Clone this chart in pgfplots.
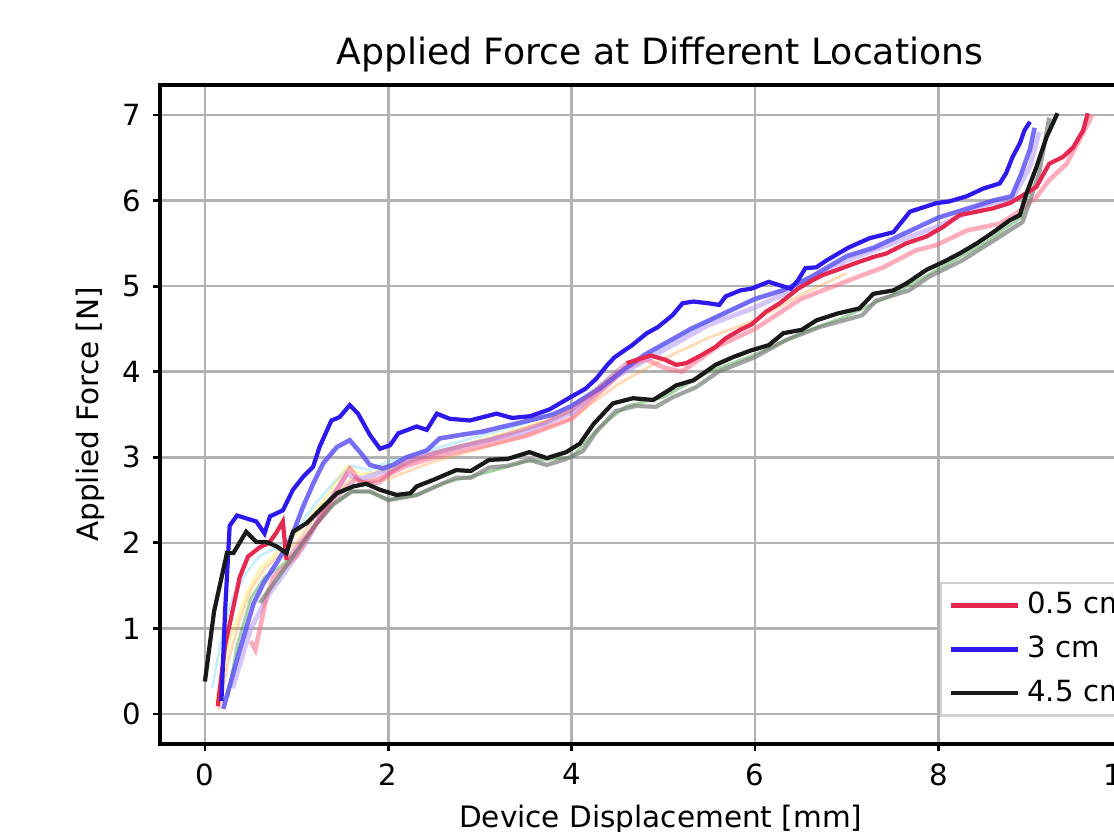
\documentclass[border=0pt]{standalone}
\usepackage{fontspec}
\setmainfont{DejaVu Sans}
\usepackage{pgfplots}
\pgfplotsset{compat=1.18}

\definecolor{redA}{RGB}{228,40,80}
\definecolor{pinkA}{RGB}{255,105,135}
\definecolor{blueA}{RGB}{45,25,235}
\definecolor{blueB}{RGB}{95,85,245}
\definecolor{lavA}{RGB}{170,140,245}
\definecolor{blackA}{RGB}{25,25,25}
\definecolor{grayA}{RGB}{120,125,120}
\definecolor{gridc}{RGB}{178,178,178}

\begin{document}
\begin{tikzpicture}
\useasboundingbox (0,0) rectangle (11.14,8.32);
\clip (0,0) rectangle (11.14,8.32);
\begin{axis}[
  at={(1.60cm,0.88cm)}, anchor=south west,
  scale only axis, width=9.8cm, height=6.59cm,
  xmin=-0.49, xmax=10.2, ymin=-0.35, ymax=7.35,
  xtick={0,2,4,6,8,10}, ytick={0,1,2,3,4,5,6,7},
  tick align=outside, tick pos=left,
  major tick length=0.07cm,
  every tick/.style={black, line width=0.8pt},
  axis line style={black, line width=0.9pt},
  grid=major, grid style={gridc, line width=0.75pt},
  /pgf/number format/assume math mode=true,
  tick label style={font=\fontsize{8.3}{10}\selectfont},
  label style={font=\fontsize{8.4}{10}\selectfont},
  xlabel={Device Displacement [mm]},
  ylabel={Applied Force [N]},
  xlabel style={at={(axis description cs:0.511,0)}, anchor=north, yshift=-0.49cm},
  ylabel style={at={(axis description cs:0,0.5)}, anchor=south, yshift=0.43cm},
  every axis title shift=0pt,
  title={Applied Force at Different Locations},
  title style={font=\fontsize{10.3}{12}\selectfont, at={(axis description cs:0.51,1)}, anchor=base, yshift=0.21cm},
  legend cell align=left,
  legend style={at={(rel axis cs:0.796,0.246)}, anchor=north west,
    font=\fontsize{8.3}{10}\selectfont, draw=gridc!60, line width=0.6pt,
    row sep=0.03cm, inner xsep=0.08cm, inner ysep=0.02cm,
    /tikz/every even column/.append style={column sep=0.13cm}},
  legend image code/.code={\draw[#1, line width=1.2pt] (0cm,0cm) -- (0.67cm,0cm);},
]
% faint trial lines near the start
\addplot[cyan!60, line width=0.8pt, opacity=0.35, forget plot] coordinates {
 (0.08,0.3)(0.2,1.0)(0.3,1.35)(0.45,1.65)(0.6,1.85)(0.8,1.95)(1.0,2.15)(1.2,2.45)(1.4,2.7)(1.6,2.9)(1.8,2.85)(2.0,2.95)(2.5,3.1)(3.0,3.25)(3.5,3.4)(4.0,3.6)(4.5,4.0)(5.0,4.3)(5.5,4.6)(6.0,4.85)};
\addplot[orange!80, line width=0.8pt, opacity=0.35, forget plot] coordinates {
 (0.15,0.05)(0.25,0.6)(0.38,1.1)(0.5,1.45)(0.65,1.7)(0.8,1.85)(1.0,2.0)(1.2,2.3)(1.4,2.55)(1.6,2.75)(1.8,2.7)(2.0,2.75)(2.5,2.95)(3.0,3.1)(3.5,3.25)(4.0,3.45)(4.5,3.85)(5.0,4.15)(5.5,4.4)(6.0,4.6)(6.5,4.9)(7.0,5.15)};
\addplot[yellow!80!orange, line width=0.8pt, opacity=0.3, forget plot] coordinates {
 (0.12,0.15)(0.28,0.9)(0.45,1.4)(0.6,1.7)(0.8,1.9)(1.0,2.1)(1.3,2.5)(1.55,2.9)(1.7,2.8)(2.0,2.85)(2.5,3.05)(3.0,3.2)(3.5,3.35)(4.0,3.55)};
\addplot[green!50!black, line width=0.8pt, opacity=0.35, forget plot] coordinates {
 (0.25,0.2)(0.35,0.8)(0.5,1.35)(0.65,1.6)(0.8,1.7)(1.0,1.9)(1.2,2.2)(1.4,2.45)(1.6,2.6)(1.8,2.6)(2.0,2.5)(2.3,2.55)(2.6,2.7)(3.0,2.8)(3.5,2.95)(4.0,3.0)(4.3,3.35)(4.6,3.6)(5.0,3.7)(5.5,4.0)(6.0,4.2)(6.5,4.45)(7.0,4.65)(7.5,4.9)(8.0,5.2)(8.5,5.5)(8.9,5.8)(9.1,6.5)(9.25,6.95)};
% 3 cm, third trial (light lavender)
\addplot[lavA, line width=1.4pt, opacity=0.5, forget plot] coordinates {
 (0.3,0.3)(0.5,1.0)(0.7,1.4)(0.9,1.7)(1.1,2.0)(1.3,2.4)(1.55,2.8)(1.7,2.75)(2.0,2.85)(2.5,3.05)(3.0,3.18)(3.5,3.3)(4.0,3.52)(4.5,3.95)(5.0,4.25)(5.5,4.55)(6.0,4.75)(6.5,5.0)(7.0,5.3)(7.5,5.5)(8.0,5.7)(8.5,5.95)(8.8,6.0)(9.0,6.4)(9.1,6.8)};
% 0.5 cm, second trial (pink)
\addplot[pinkA, line width=1.3pt, opacity=0.55, forget plot] coordinates {
 (0.5,0.85)(0.55,0.75)(0.62,1.1)(0.67,1.37)(0.75,1.6)(0.85,1.7)(1.0,1.85)(1.2,2.2)(1.4,2.55)(1.58,2.87)(1.7,2.7)(1.9,2.75)(2.2,2.9)(2.5,3.0)(3.0,3.12)(3.5,3.25)(4.0,3.45)(4.3,3.75)(4.6,4.05)(4.8,4.15)(5.0,4.05)(5.2,4.0)(5.4,4.15)(5.6,4.3)(6.0,4.5)(6.5,4.85)(7.03,5.07)(7.40,5.22)(7.76,5.42)(7.98,5.48)(8.31,5.65)(8.67,5.73)(8.85,5.85)(9.07,6.04)(9.21,6.24)(9.40,6.43)(9.54,6.71)(9.68,7.0)};
% 4.5 cm, second trial (gray)
\addplot[grayA, line width=1.2pt, opacity=0.7, forget plot] coordinates {
 (0.6,1.3)(0.8,1.6)(1.0,1.9)(1.2,2.2)(1.4,2.45)(1.6,2.6)(1.8,2.6)(2.0,2.5)(2.31,2.56)(2.5,2.65)(2.74,2.76)(2.9,2.76)(3.1,2.88)(3.3,2.9)(3.54,2.97)(3.73,2.91)(3.94,2.98)(4.12,3.07)(4.27,3.3)(4.48,3.54)(4.7,3.6)(4.92,3.59)(5.1,3.7)(5.36,3.82)(5.6,4.0)(6.0,4.17)(6.34,4.37)(6.7,4.52)(7.17,4.66)(7.32,4.83)(7.68,4.95)(7.9,5.11)(8.26,5.3)(8.63,5.55)(8.92,5.75)(9.0,6.0)(9.1,6.32)(9.21,6.97)};
% 3 cm, second trial (medium blue)
\addplot[blueB, line width=1.3pt, opacity=0.85, forget plot] coordinates {
 (0.2,0.06)(0.38,0.75)(0.53,1.29)(0.64,1.53)(0.78,1.76)(0.93,2.03)(1.07,2.42)(1.18,2.69)(1.29,2.93)(1.44,3.12)(1.58,3.2)(1.70,3.05)(1.80,2.91)(1.94,2.87)(2.05,2.91)(2.2,3.0)(2.42,3.08)(2.56,3.22)(2.78,3.26)(3.03,3.30)(3.18,3.34)(3.5,3.42)(3.8,3.5)(4.0,3.6)(4.3,3.8)(4.6,4.05)(4.8,4.2)(5.0,4.32)(5.3,4.5)(5.6,4.65)(6.0,4.85)(6.3,4.95)(6.6,5.1)(7.0,5.35)(7.3,5.45)(7.6,5.6)(8.0,5.8)(8.3,5.9)(8.6,6.0)(8.8,6.05)(8.9,6.3)(9.0,6.6)(9.05,6.85)};
% 0.5 cm, middle part faint
\addplot[redA!70!lavA, line width=1.2pt, opacity=0.4, forget plot] coordinates {
 (0.89,1.8)(1.0,1.95)(1.2,2.2)(1.4,2.5)(1.55,2.65)(1.65,2.75)(1.75,2.7)(1.9,2.7)(2.0,2.8)(2.2,2.95)(2.5,3.05)(2.8,3.13)(3.1,3.2)(3.4,3.3)(3.7,3.4)(4.0,3.55)(4.2,3.72)(4.4,3.92)(4.6,4.1)};
% main lines
\addplot[redA, line width=1.2pt] coordinates {
 (0.14,0.09)(0.22,0.8)(0.3,1.2)(0.38,1.6)(0.47,1.84)(0.6,1.95)(0.7,2.0)(0.78,2.12)(0.85,2.25)(0.89,1.8)};
\addplot[redA, line width=1.2pt, forget plot] coordinates {
 (4.6,4.1)(4.86,4.19)(5.02,4.14)(5.14,4.08)(5.25,4.10)(5.41,4.19)(5.57,4.29)(5.68,4.39)(5.84,4.49)(5.96,4.55)(6.12,4.70)(6.27,4.80)(6.47,4.97)(6.63,5.07)(6.74,5.13)(6.90,5.19)(7.10,5.27)(7.29,5.34)(7.43,5.38)(7.65,5.50)(7.87,5.58)(8.05,5.69)(8.23,5.83)(8.42,5.87)(8.60,5.91)(8.78,5.97)(8.92,6.06)(9.07,6.16)(9.21,6.43)(9.36,6.51)(9.47,6.62)(9.58,6.82)(9.63,7.02)};
\addplot[blueA, line width=1.2pt] coordinates {
 (0.18,0.15)(0.22,1.2)(0.27,2.2)(0.35,2.32)(0.56,2.25)(0.65,2.11)(0.71,2.31)(0.85,2.38)(0.96,2.62)(1.07,2.77)(1.18,2.89)(1.25,3.12)(1.38,3.43)(1.47,3.47)(1.58,3.61)(1.67,3.51)(1.80,3.26)(1.91,3.10)(2.02,3.14)(2.11,3.28)(2.31,3.36)(2.42,3.32)(2.53,3.51)(2.67,3.45)(2.89,3.43)(3.18,3.51)(3.35,3.46)(3.55,3.48)(3.76,3.56)(4.0,3.71)(4.15,3.80)(4.27,3.92)(4.39,4.08)(4.47,4.17)(4.66,4.31)(4.82,4.45)(4.94,4.52)(5.10,4.66)(5.21,4.80)(5.33,4.82)(5.49,4.80)(5.61,4.78)(5.68,4.88)(5.84,4.95)(5.96,4.97)(6.15,5.05)(6.27,5.01)(6.39,4.97)(6.47,5.07)(6.55,5.21)(6.67,5.22)(6.78,5.30)(7.02,5.45)(7.25,5.56)(7.51,5.63)(7.69,5.87)(7.98,5.97)(8.12,5.99)(8.31,6.05)(8.49,6.14)(8.67,6.20)(8.74,6.32)(8.81,6.51)(8.89,6.67)(8.94,6.82)(9.0,6.92)};
\addplot[blackA, line width=1.2pt] coordinates {
 (0,0.38)(0.1,1.2)(0.24,1.88)(0.31,1.88)(0.45,2.13)(0.56,2.01)(0.67,2.01)(0.78,1.96)(0.89,1.88)(0.96,2.13)(1.11,2.23)(1.25,2.38)(1.44,2.58)(1.62,2.66)(1.76,2.69)(1.91,2.62)(2.09,2.56)(2.24,2.58)(2.31,2.66)(2.5,2.74)(2.74,2.85)(2.9,2.84)(3.1,2.97)(3.3,2.98)(3.54,3.06)(3.73,2.99)(3.94,3.06)(4.09,3.16)(4.24,3.39)(4.45,3.63)(4.67,3.69)(4.89,3.67)(5.07,3.79)(5.14,3.84)(5.33,3.90)(5.57,4.08)(5.76,4.17)(5.96,4.25)(6.15,4.31)(6.31,4.45)(6.51,4.49)(6.67,4.60)(6.90,4.68)(7.14,4.74)(7.29,4.91)(7.51,4.95)(7.65,5.03)(7.87,5.19)(8.05,5.28)(8.23,5.38)(8.42,5.50)(8.60,5.63)(8.78,5.77)(8.89,5.83)(8.96,6.08)(9.07,6.39)(9.18,6.74)(9.30,7.02)};
\legend{0.5 cm, 3 cm, 4.5 cm}
\end{axis}
\end{tikzpicture}
\end{document}
